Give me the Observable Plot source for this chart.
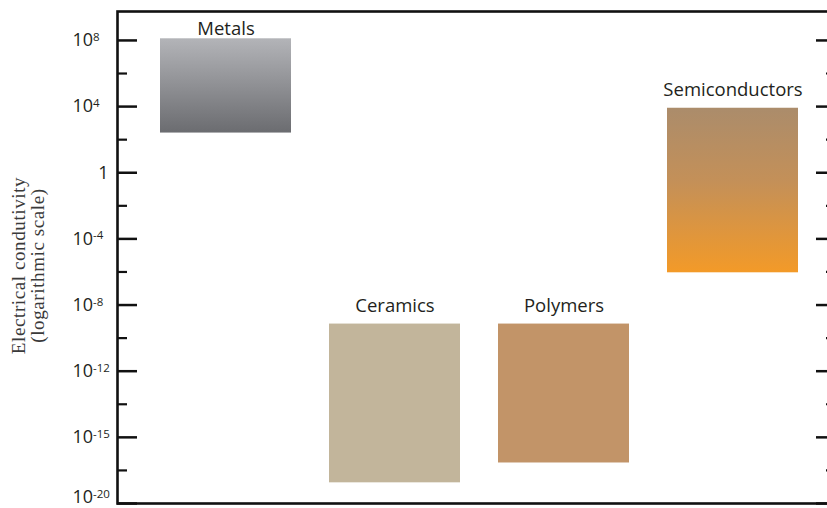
<!DOCTYPE html>
<html>
<head>
<meta charset="utf-8">
<script src="https://cdn.jsdelivr.net/npm/d3@7"></script>
<script src="https://cdn.jsdelivr.net/npm/@observablehq/plot@0.6"></script>
<style>
  html, body { margin: 0; padding: 0; background: #fff; overflow: hidden; }
  #chart svg { display: block; }
</style>
</head>
<body>
<div id="chart"></div>
<script>
// Material classes and their conductivity ranges (axis position, in decades; tick spacing = 4 decades)
const categories = ["Metals", "Ceramics", "Polymers", "Semiconductors"];
const lowExp  = [2.4, -18.75, -17.55, -6.05];
const highExp = [8.1, -9.15, -9.15, 3.9];

// Axis ticks (positions in decades) and the labels printed on them
const majorTicks = [8, 4, 0, -4, -8, -12, -16, -20];
const tickLabels = ["10^8", "10^4", "1", "10^-4", "10^-8", "10^-12", "10^-15", "10^-20"];
const minorTicks = [6, 2, -2, -6, -10, -14, -18];

const yTitle = "Electrical condutivity\n(logarithmic scale)";

// styles
const fills = ["url(#gradMetals)", "#c2b59b", "#c29468", "url(#gradSemi)"];

const bars = categories.map((cat, i) => ({cat, low: lowExp[i], high: highExp[i]}));
const labelOf = new Map(majorTicks.map((t, i) => [t, tickLabels[i]]));
const powerTicks = majorTicks.filter(t => labelOf.get(t).includes("^"));
const plainTicks = majorTicks.filter(t => !labelOf.get(t).includes("^"));

const sans = "'Open Sans', 'Noto Sans', sans-serif";
const ink = "#231f20";

const chart = Plot.plot({
  width: 827,
  height: 508,
  marginLeft: 117,
  marginRight: -9,
  marginTop: 11,
  marginBottom: 5,
  style: {fontFamily: sans, background: "#fff"},
  x: {type: "band", domain: categories, paddingInner: 0.224, paddingOuter: 0.227, align: 0.53, axis: null},
  y: {type: "linear", domain: [-20, 9.75], axis: null},
  color: {type: "ordinal", domain: categories, range: fills},
  marks: [
    Plot.barY(bars, {x: "cat", y1: "low", y2: "high", fill: "cat"}),
    Plot.text(bars.filter(d => d.cat === "Metals"), {x: "cat", y: "high", text: "cat", dy: -4, lineAnchor: "bottom", fontSize: 18.5, fill: ink}),
    Plot.text(bars.filter(d => d.cat !== "Metals"), {x: "cat", y: "high", text: "cat", dy: -12, lineAnchor: "bottom", fontSize: 18.5, fill: ink}),
    Plot.frame({stroke: "#111", strokeWidth: 2.6}),
    Plot.ruleY(majorTicks, {y: d => d, insetRight: 699, stroke: "#111", strokeWidth: 2.5}),
    Plot.ruleY(majorTicks, {y: d => d, insetLeft: 699, stroke: "#111", strokeWidth: 2.5}),
    Plot.ruleY(minorTicks, {y: d => d, insetRight: 709, stroke: "#111", strokeWidth: 2.2}),
    Plot.ruleY(minorTicks, {y: d => d, insetLeft: 709, stroke: "#111", strokeWidth: 2.2}),
    Plot.axisY({ticks: powerTicks, tickFormat: d => labelOf.get(d), tickSize: 0, tickPadding: 45, textAnchor: "start", fontSize: 18, fill: ink, fontFamily: sans}),
    Plot.axisY({ticks: plainTicks, tickFormat: d => labelOf.get(d), tickSize: 0, tickPadding: 9, fontSize: 18, fill: ink, fontFamily: sans}),
    Plot.text([yTitle], {frameAnchor: "left", textAnchor: "middle", rotate: -90, dx: -89, dy: 8, fontSize: 19, lineHeight: 1.0, fill: "#3a3a3a", fontFamily: "'Liberation Serif', 'DejaVu Serif', serif", className: "ytitle"})
  ]
});

// gradients for the shaded boxes
const ns = "http://www.w3.org/2000/svg";
const defs = document.createElementNS(ns, "defs");
function grad(id, stops) {
  const g = document.createElementNS(ns, "linearGradient");
  g.setAttribute("id", id);
  g.setAttribute("x1", "0"); g.setAttribute("y1", "0");
  g.setAttribute("x2", "0"); g.setAttribute("y2", "1");
  stops.forEach(([off, col]) => {
    const s = document.createElementNS(ns, "stop");
    s.setAttribute("offset", off);
    s.setAttribute("stop-color", col);
    g.appendChild(s);
  });
  defs.appendChild(g);
}
grad("gradMetals", [["0", "#b3b4b8"], ["1", "#6b6c70"]]);
grad("gradSemi", [["0", "#ab8c6b"], ["0.45", "#c49058"], ["1", "#f39a28"]]);
chart.insertBefore(defs, chart.firstChild);

// superscripts in tick labels
chart.querySelectorAll('[aria-label="y-axis tick label"] text').forEach(t => {
  const s = t.textContent;
  const k = s.indexOf("^");
  if (k >= 0) {
    t.textContent = s.slice(0, k);
    const sup = document.createElementNS(ns, "tspan");
    sup.setAttribute("dy", "-0.45em");
    sup.setAttribute("font-size", "11.5");
    sup.textContent = s.slice(k + 1);
    t.appendChild(sup);
  }
  if (s === tickLabels[tickLabels.length - 1]) {
    const tr = t.getAttribute("transform");
    t.setAttribute("transform", (tr ? tr + " " : "") + "translate(0,-6)");
  }
});
// letter spacing for the serif axis title
chart.querySelectorAll('.ytitle text').forEach(t => t.setAttribute("letter-spacing", "0.6"));

document.getElementById("chart").appendChild(chart);
</script>
</body>
</html>
